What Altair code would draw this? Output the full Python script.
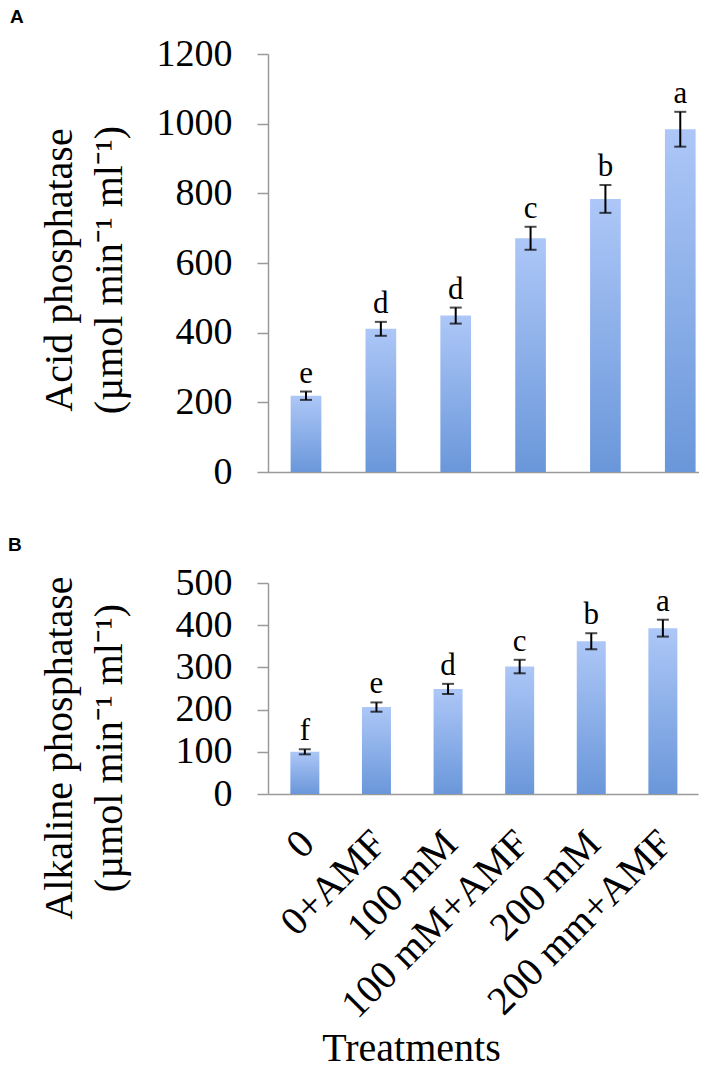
import altair as alt
import pandas as pd

categories = ["0", "0+AMF", "100 mM", "100 mM+AMF", "200 mM", "200 mm+AMF"]

acid_values = [219, 411, 449, 671, 784, 984]
acid_errors = [12, 20, 23, 33, 40, 50]
acid_letters = ["e", "d", "d", "c", "b", "a"]

alk_values = [100, 206, 249, 302, 362, 393]
alk_errors = [6, 11, 12, 16, 19, 20]
alk_letters = ["f", "e", "d", "c", "b", "a"]

acid_ticks = [0, 200, 400, 600, 800, 1000, 1200]
alk_ticks = [0, 100, 200, 300, 400, 500]

acid_title = ["Acid phosphatase", "(µmol min⁻¹ ml⁻¹)"]
alk_title = ["Alkaline phosphatase", "(µmol min⁻¹ ml⁻¹)"]

SERIF = "Liberation Serif"
GRAY = "#9a9a9a"


def make_df(vals, errs, letters):
    return pd.DataFrame({
        "cat": categories,
        "val": vals,
        "lo": [v - e for v, e in zip(vals, errs)],
        "hi": [v + e for v, e in zip(vals, errs)],
        "letter": letters,
    })


grad = alt.LinearGradient(
    gradient="linear",
    stops=[alt.GradientStop(color="#adc7f7", offset=0),
           alt.GradientStop(color="#6a97da", offset=1)],
    x1=0, x2=0, y1=0, y2=1,
)

one = pd.DataFrame({"k": [0]})


def panel(df, ticks, ymax, title_lines, width, height, pin, pout, align,
          title_y, xaxis, label):
    x = alt.X("cat:N", sort=categories,
              scale=alt.Scale(paddingInner=pin, paddingOuter=pout, align=align),
              axis=xaxis)
    xn = alt.X("cat:N", sort=categories)
    yaxis = alt.Axis(
        values=ticks, format="d", grid=False, domainColor=GRAY, domainWidth=1.5,
        tickColor=GRAY, tickSize=11, tickWidth=1.5, labelPadding=25,
        labelFont=SERIF, labelFontSize=38, labelColor="black", title=None,
    )
    y = alt.Y("val:Q", scale=alt.Scale(domain=[0, ymax], nice=False), axis=yaxis)
    base = alt.Chart(df)
    bars = base.mark_bar(color=grad).encode(x=x, y=y)
    rule = base.mark_rule(color="black", strokeWidth=2).encode(
        x=xn, y="lo:Q", y2="hi:Q")
    cap_lo = base.mark_tick(color="black", size=12, thickness=2).encode(
        x=xn, y="lo:Q")
    cap_hi = base.mark_tick(color="black", size=12, thickness=2).encode(
        x=xn, y="hi:Q")
    letters = base.mark_text(font=SERIF, fontSize=31, color="black",
                             baseline="alphabetic", dy=-9).encode(
        x=xn, y="hi:Q", text="letter:N")
    lab = alt.Chart(one).mark_text(
        font="Liberation Sans", fontSize=19, fontWeight="bold", color="black",
        align="left", baseline="alphabetic").encode(
        x=alt.value(label[1]), y=alt.value(label[2]), text=alt.value(label[0]))
    t1 = alt.Chart(one).mark_text(
        font=SERIF, fontSize=40, color="black", angle=270, align="center",
        baseline="alphabetic").encode(
        x=alt.value(-196), y=alt.value(title_y), text=alt.value(title_lines[0]))
    t2 = alt.Chart(one).mark_text(
        font=SERIF, fontSize=40, color="black", angle=270, align="center",
        baseline="alphabetic").encode(
        x=alt.value(-146), y=alt.value(title_y), text=alt.value(title_lines[1]))
    return alt.layer(bars, rule, cap_lo, cap_hi, letters, lab, t1, t2).properties(
        width=width, height=height)


acid_df = make_df(acid_values, acid_errors, acid_letters)
alk_df = make_df(alk_values, alk_errors, alk_letters)

xaxis_a = alt.Axis(labels=False, ticks=False, title=None, domainColor=GRAY,
                   domainWidth=1.5)
xaxis_b = alt.Axis(
    ticks=False, domainColor=GRAY, domainWidth=1.5,
    labelAngle=-45, labelAlign="right", labelBaseline="middle",
    labelPadding=43, labelOffset=3, labelFont=SERIF, labelFontSize=40,
    labelColor="black", labelLimit=500, labelOverlap=False,
    title="Treatments", titleFont=SERIF, titleFontSize=40,
    titleFontWeight="normal", titleColor="black", titleX=143, titleY=266,
    titleAlign="center", titleBaseline="alphabetic",
)

chart_a = panel(acid_df, acid_ticks, 1200, acid_title,
                431, 418, 0.59, 0.174, 0.87, 216, xaxis_a, ("A", -258, -31))
chart_b = panel(alk_df, alk_ticks, 500, alk_title,
                430, 211, 0.595, 0.3, 0.52, 165, xaxis_b, ("B", -260, -32))

chart = alt.vconcat(chart_a, chart_b, spacing=111, bounds="flush").properties(
    padding={"left": 0, "top": 0, "right": 0, "bottom": 0}
).configure(background="white").configure_view(stroke=None).configure_axis(
    titleFont=SERIF, labelFont=SERIF
)

chart.save("out.html", embed_options={"renderer": "svg", "actions": False})
